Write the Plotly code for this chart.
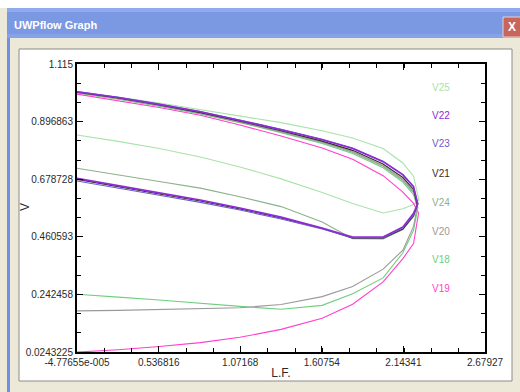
import plotly.graph_objects as go

# ---------------- data ----------------
SERIES = ["V25", "V22", "V23", "V21", "V24", "V20", "V18", "V19"]
COLORS = {"V25": "#a9e3a9", "V22": "#8e2bd6", "V23": "#6a5ccf", "V21": "#3a2b2b",
          "V24": "#8db08d", "V20": "#9a9a9a", "V18": "#6fcf7f", "V19": "#ff3fcf"}

UP_X = [0.0, 0.27, 0.54, 0.81, 1.07, 1.34, 1.61, 1.81, 2.01, 2.14, 2.21]
LOW_X = [2.21, 2.14, 2.01, 1.81, 1.61, 1.34, 1.07, 0.81, 0.54, 0.27, 0.0]

UPPER = {
    "V25": [1.009, 0.990, 0.967, 0.942, 0.918, 0.893, 0.862, 0.835, 0.795, 0.740, 0.690],
    "V22": [1.010, 0.988, 0.962, 0.934, 0.901, 0.866, 0.828, 0.795, 0.745, 0.695, 0.650],
    "V23": [1.011, 0.989, 0.963, 0.935, 0.903, 0.868, 0.830, 0.797, 0.747, 0.697, 0.652],
    "V21": [1.008, 0.986, 0.960, 0.931, 0.898, 0.862, 0.823, 0.788, 0.736, 0.685, 0.640],
    "V24": [1.007, 0.985, 0.958, 0.929, 0.896, 0.860, 0.820, 0.784, 0.731, 0.679, 0.633],
    "V20": [1.006, 0.984, 0.957, 0.928, 0.895, 0.858, 0.818, 0.781, 0.728, 0.675, 0.628],
    "V18": [1.005, 0.982, 0.955, 0.926, 0.893, 0.855, 0.814, 0.776, 0.722, 0.668, 0.620],
    "V19": [1.001, 0.976, 0.950, 0.921, 0.884, 0.842, 0.797, 0.754, 0.692, 0.630, 0.587],
}
NOSE_X = {"V25": 2.245, "V22": 2.238, "V23": 2.238, "V21": 2.235,
          "V24": 2.235, "V20": 2.235, "V18": 2.238, "V19": 2.243}
NOSE_Y = {"V25": 0.600, "V22": 0.585, "V23": 0.585, "V21": 0.580,
          "V24": 0.578, "V20": 0.575, "V18": 0.570, "V19": 0.550}
LOWER = {
    "V25": [0.583, 0.567, 0.551, 0.587, 0.628, 0.680, 0.725, 0.763, 0.795, 0.822, 0.846],
    "V22": [0.550, 0.498, 0.460, 0.460, 0.494, 0.535, 0.570, 0.600, 0.627, 0.655, 0.682],
    "V23": [0.545, 0.495, 0.457, 0.457, 0.490, 0.528, 0.562, 0.591, 0.618, 0.645, 0.672],
    "V21": [0.540, 0.490, 0.455, 0.455, 0.492, 0.532, 0.566, 0.596, 0.623, 0.650, 0.678],
    "V24": [0.538, 0.488, 0.452, 0.453, 0.517, 0.575, 0.612, 0.645, 0.670, 0.695, 0.720],
    "V20": [0.500, 0.410, 0.338, 0.272, 0.234, 0.204, 0.192, 0.188, 0.185, 0.182, 0.180],
    "V18": [0.485, 0.400, 0.305, 0.245, 0.201, 0.186, 0.197, 0.210, 0.221, 0.232, 0.243],
    "V19": [0.435, 0.378, 0.290, 0.205, 0.152, 0.110, 0.080, 0.060, 0.045, 0.033, 0.024],
}

X_TICKVALS = [-4.77655e-005, 0.536816, 1.07168, 1.60754, 2.14341, 2.67927]
X_TICKTEXT = ["-4.77655e-005", "0.536816", "1.07168", "1.60754", "2.14341", "2.67927"]
Y_TICKVALS = [0.0243225, 0.242458, 0.460593, 0.678728, 0.896863, 1.115]
Y_TICKTEXT = ["0.0243225", "0.242458", "0.460593", "0.678728", "0.896863", "1.115"]

DRAW_ORDER = ["V25", "V19", "V18", "V20", "V24", "V21", "V23", "V22"]

# ---------------- figure ----------------
fig = go.Figure()
for name in DRAW_ORDER:
    xs = UP_X + [NOSE_X[name]] + LOW_X
    ys = UPPER[name] + [NOSE_Y[name]] + LOWER[name]
    fig.add_trace(go.Scatter(x=xs, y=ys, mode="lines", name=name,
                             line=dict(color=COLORS[name], width=1.6 if name == "V22" else 1.1),
                             hoverinfo="skip"))

W, H = 520, 392
L, R, T, B = 77, 35, 64, 40
PW, PH = W - L - R, H - T - B


def px(x):
    return (x - L) / PW


def py(y):
    return (H - B - y) / PH


def rect(x0, y0, x1, y1, fill, line=None, lw=0):
    return dict(type="rect", xref="paper", yref="paper", layer="below",
                x0=px(x0), x1=px(x1), y0=py(y1), y1=py(y0),
                fillcolor=fill, line=dict(color=line or fill, width=lw))


shapes = [
    rect(0, 0, 520, 8, "white"),
    rect(7, 8, 520, 38, "#7b98e2"),
    rect(7, 8, 520, 12, "#8fabee"),
    rect(7, 34, 520, 38, "#86a2ea"),
    rect(7, 38, 10, 392, "#7190df"),
    rect(19, 49, 512, 381, "white", "#8a8a8a", 1),
    rect(503, 17, 522, 37, "#c8665c", "#e8d0d0", 1),
]

annotations = [
    dict(text="<b>UWPflow Graph</b>", xref="paper", yref="paper", x=px(12), y=py(25),
         xanchor="left", yanchor="middle", showarrow=False,
         font=dict(color="white", size=11, family="Liberation Sans, Arial, sans-serif")),
    dict(text="<b>X</b>", xref="paper", yref="paper", x=px(506), y=py(27),
         xanchor="left", yanchor="middle", showarrow=False,
         font=dict(color="white", size=12, family="Liberation Sans, Arial, sans-serif")),
    dict(text="V", xref="paper", yref="paper", x=px(25), y=py(207),
         xanchor="center", yanchor="middle", showarrow=False, textangle=-90,
         font=dict(size=12, color="#2a2a2a")),
]
label_y = [87, 115, 143, 173, 202, 231, 259, 288]
for name, ly in zip(SERIES, label_y):
    annotations.append(dict(text=name, xref="paper", yref="paper", x=px(441), y=py(ly),
                            xanchor="center", yanchor="middle", showarrow=False,
                            font=dict(color=COLORS[name], size=10)))

axis_common = dict(showline=True, linecolor="black", linewidth=2, mirror="ticks",
                   ticks="inside", ticklen=6, tickwidth=1, tickcolor="black",
                   showgrid=False, zeroline=False, tickmode="array",
                   tickfont=dict(size=10, color="#2a2a2a"))

fig.update_layout(
    width=W, height=H, margin=dict(l=L, r=R, t=T, b=B),
    paper_bgcolor="#ece9d8", plot_bgcolor="white", showlegend=False,
    font=dict(family="Liberation Sans, Arial, sans-serif", size=10, color="#2a2a2a"),
    shapes=shapes, annotations=annotations,
    xaxis=dict(range=[X_TICKVALS[0], X_TICKVALS[-1]], tickvals=X_TICKVALS, ticktext=X_TICKTEXT,
               minor=dict(tickmode="linear", tick0=X_TICKVALS[0],
                          dtick=(X_TICKVALS[1] - X_TICKVALS[0]) / 3,
                          ticks="inside", ticklen=4, tickcolor="black"),
               title=dict(text="L.F.", font=dict(size=12, color="#2a2a2a"), standoff=2),
               **axis_common),
    yaxis=dict(range=[Y_TICKVALS[0], Y_TICKVALS[-1]], tickvals=Y_TICKVALS, ticktext=Y_TICKTEXT,
               minor=dict(tickmode="linear", tick0=Y_TICKVALS[0],
                          dtick=(Y_TICKVALS[1] - Y_TICKVALS[0]) / 3,
                          ticks="inside", ticklen=4, tickcolor="black"),
               **axis_common),
)

fig.write_html("out.html", config={"displayModeBar": False},
               post_script="document.body.style.margin='0px';document.body.style.overflow='hidden';")
